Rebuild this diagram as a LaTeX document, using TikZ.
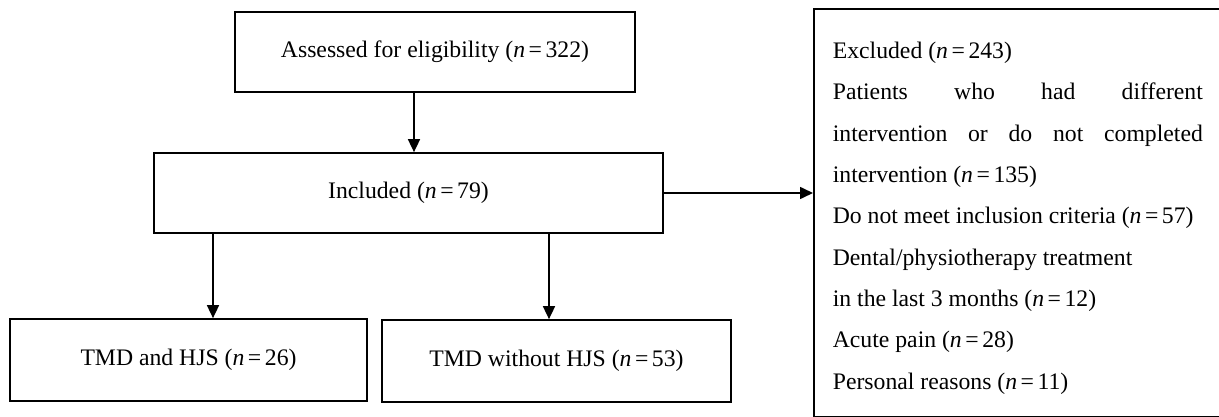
\documentclass[tikz,border=0pt]{standalone}
\usepackage{fontspec}
\setmainfont{Liberation Serif}
\usetikzlibrary{arrows.meta}
\newcommand{\bodyfont}{\fontsize{23.7pt}{41.3pt}\selectfont}
\newcommand{\nn}[1]{(\textit{n}\kern0.15em=\kern0.15em#1)}
\newcommand{\justline}[1]{\leavevmode\hbox to 370pt{#1}}
\begin{document}
\begin{tikzpicture}[x=1pt,y=-1pt,
  box/.style={draw, line width=1.7pt, inner sep=0pt, font=\bodyfont, align=center},
  arr/.style={-{Triangle[length=13pt,width=12pt]}, line width=1.6pt}]
\clip (0,0) rectangle (1219,417);
\node[box, minimum width=400pt, minimum height=80pt] (A) at (435,52) {Assessed for eligibility \nn{322}};
\node[box, minimum width=509pt, minimum height=80pt] (B) at (408.5,193) {Included \nn{79}};
\node[box, minimum width=357pt, minimum height=82pt] (C) at (188.5,360) {TMD and HJS \nn{26}};
\node[box, minimum width=349pt, minimum height=82pt] (D) at (556.5,361) {TMD without HJS \nn{53}};
\node[box, anchor=north west, align=flush left, text width=370pt, inner xsep=19pt, inner ysep=0pt,
      minimum height=408pt] (E) at (813,8) {%
\rule{0pt}{27pt}Excluded \nn{243}\\
\justline{Patients\hfill who\hfill had\hfill different}\\
\justline{intervention\hfill or\hfill do\hfill not\hfill completed}\\
intervention \nn{135}\\
\mbox{Do not meet inclusion criteria \nn{57}}\\
Dental/physiotherapy treatment\\
in the last 3 months \nn{12}\\
Acute pain \nn{28}\\
Personal reasons \nn{11}};
\coordinate (xa) at (414,0);
\coordinate (xc) at (213,0);
\coordinate (xd) at (549,0);
\draw[arr] (A.south -| xa) -- (B.north -| xa);
\draw[arr] (B.south -| xc) -- (C.north -| xc);
\draw[arr] (B.south -| xd) -- (D.north -| xd);
\draw[arr] (B.east) -- (B.east -| E.west);
\end{tikzpicture}
\end{document}
